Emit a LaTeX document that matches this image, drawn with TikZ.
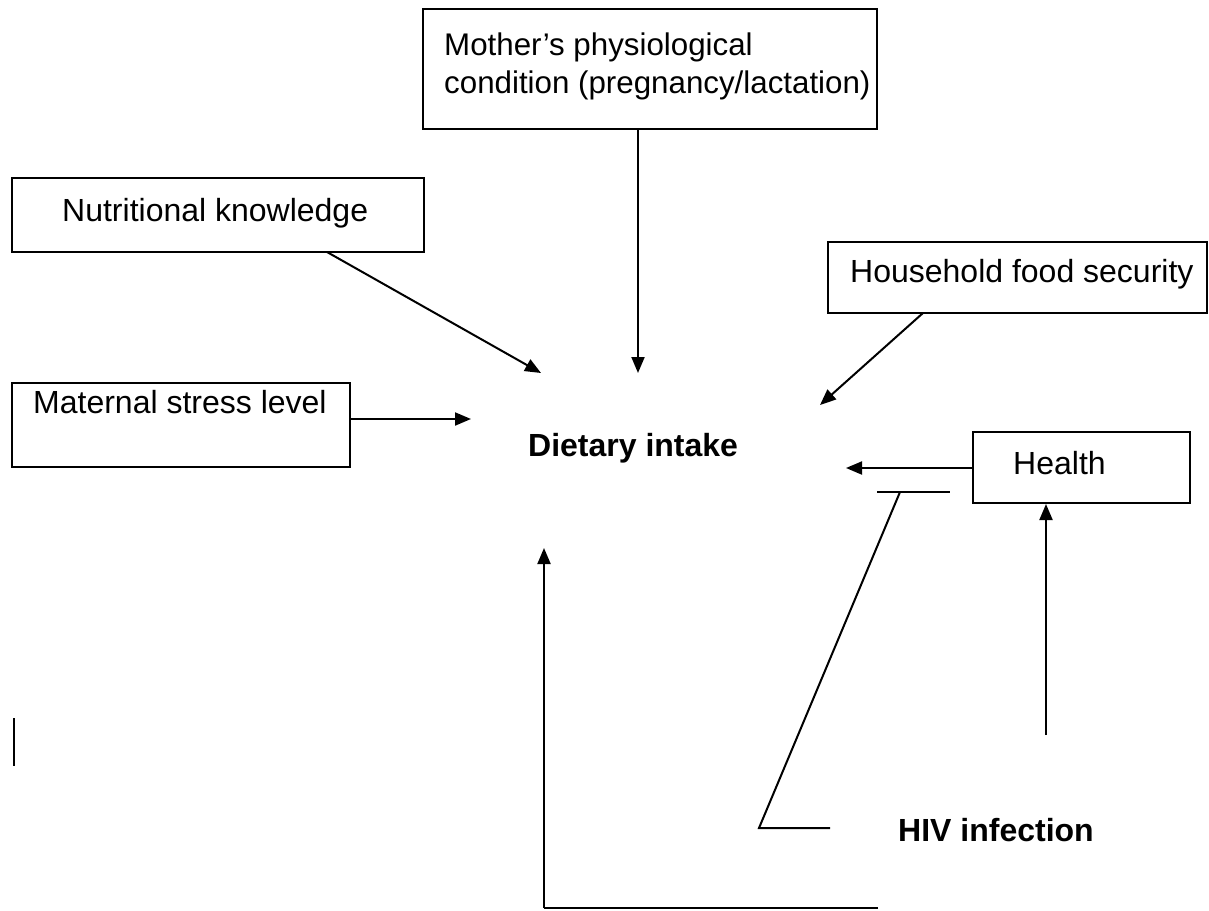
\documentclass[tikz,border=0pt]{standalone}
\usepackage{fontspec}
\setmainfont{Liberation Sans}
\usetikzlibrary{arrows.meta}
\begin{document}
\begin{tikzpicture}[x=1pt,y=-1pt,
  every node/.style={font=\fontsize{32}{38}\selectfont},
  box/.style={draw, line width=2pt, inner sep=0pt},
  txt/.style={inner sep=0pt, anchor=west},
  conn/.style={line width=2pt},
  arr/.style={line width=2pt, -{Triangle[length=16pt,width=13pt]}}]
\useasboundingbox (0,0) rectangle (1209,910);
% boxes
\node[box, minimum width=454pt, minimum height=120pt] (mo) at (650,69) {};
\node[txt, align=left, anchor=north west, font=\fontsize{31.3}{38}\selectfont] (motxt) at (444,33) {Mother’s physiological\\condition (pregnancy/lactation)};
\node[box, minimum width=412pt, minimum height=74pt] (nk) at (218,215) {};
\node[txt] (nktxt) at (62,213) {Nutritional knowledge};
\node[box, minimum width=338pt, minimum height=84pt] (ms) at (181,425) {};
\node[txt] (mstxt) at (33,402) {Maternal stress level};
\node[box, minimum width=379pt, minimum height=71pt] (hf) at (1017.5,277.5) {};
\node[txt] (hftxt) at (850,274) {Household food security};
\node[box, minimum width=217pt, minimum height=71pt] (he) at (1081.5,467.5) {};
\node[txt] (hetxt) at (1013,463) {Health};
% centre texts
\node[txt, font=\fontsize{32}{38}\selectfont\bfseries] (di) at (528,448) {Dietary intake};
\node[txt, font=\fontsize{32}{38}\selectfont\bfseries] (hiv) at (898,830) {HIV infection};
% coordinates
\coordinate (moT) at (638,373);
\coordinate (nkS) at (327,252);
\coordinate (nkT) at (541,373);
\coordinate (hfS) at (923,313);
\coordinate (hfT) at (820,405);
\coordinate (msT) at (471,419);
\coordinate (heT) at (846,468);
\coordinate (hvS) at (1046,735);
\coordinate (barL) at (877,492);
\coordinate (barR) at (950,492);
\coordinate (barM) at (900,492);
\coordinate (cornA) at (759,828);
\coordinate (cornB) at (830,828);
\coordinate (botR) at (878,908);
\coordinate (botL) at (544,908);
\coordinate (botT) at (544,548);
\coordinate (lt) at (14,718);
\coordinate (lb) at (14,766);
% connectors
\draw[arr] (mo.south -| moT) -- (moT);
\draw[arr] (nkS) -- (nkT);
\draw[arr] (hfS) -- (hfT);
\draw[arr] (ms.east |- msT) -- (msT);
\draw[arr] (he.west |- heT) -- (heT);
\draw[arr] (hvS) -- (he.south -| hvS);
\draw[conn] (barL) -- (barR);
\draw[conn] (barM) -- (cornA) -- (cornB);
\draw[conn] (botR) -- (botL);
\draw[arr] (botL) -- (botT);
\draw[conn] (lt) -- (lb);
\end{tikzpicture}
\end{document}
